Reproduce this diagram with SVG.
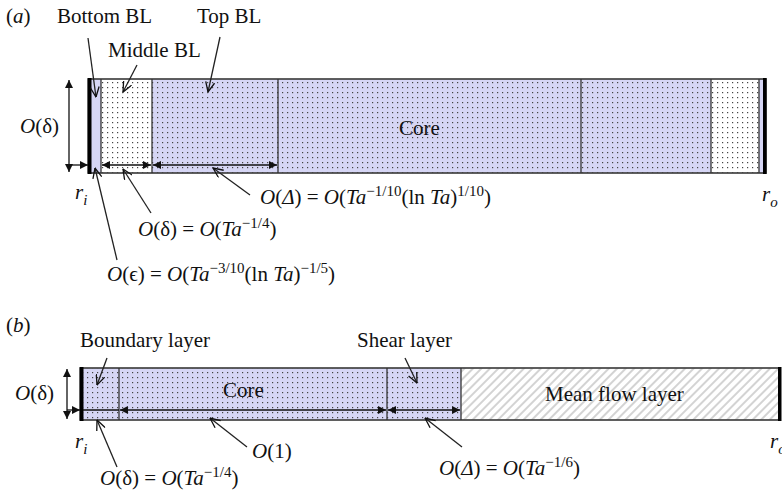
<svg xmlns="http://www.w3.org/2000/svg" width="782" height="500" viewBox="0 0 782 500">
<style>
text{font-family:"Liberation Serif","Times New Roman",serif;font-size:21px;fill:#111}
.i{font-style:italic}
.sup{font-size:15px}
.sub{font-size:15px}
.ln{stroke:#222;stroke-width:1.3;fill:none}
.ar{stroke:#111;stroke-width:1.3;fill:none}
.dv{stroke:#333;stroke-width:1.3}
.bd{fill:none;stroke:#444;stroke-width:1.7}
</style>
<defs>
<pattern id="bdots" width="5" height="5" patternUnits="userSpaceOnUse">
<rect width="5" height="5" fill="#d6d6f5"/>
<rect x="2" y="2" width="1.2" height="1.2" fill="#444"/>
</pattern>
<pattern id="wdots" width="5" height="5" patternUnits="userSpaceOnUse">
<rect width="5" height="5" fill="#fff"/>
<rect x="2" y="2" width="1.2" height="1.2" fill="#444"/>
</pattern>
<pattern id="hatch" width="6" height="6" patternUnits="userSpaceOnUse" patternTransform="rotate(45)">
<rect width="6" height="6" fill="#fff"/>
<line x1="1" y1="0" x2="1" y2="6" stroke="#c8c8c8" stroke-width="1.6"/>
</pattern>
<marker id="tri" viewBox="0 0 10 10" refX="10" refY="5" markerWidth="10" markerHeight="8" markerUnits="userSpaceOnUse" orient="auto-start-reverse">
<path d="M0,0 L10,5 L0,10 Z" fill="#111"/>
</marker>
<marker id="vee" viewBox="0 0 10 10" refX="10" refY="5" markerWidth="11" markerHeight="10" markerUnits="userSpaceOnUse" orient="auto">
<path d="M0,0.5 L10,5 L0,9.5" fill="none" stroke="#111" stroke-width="1.3"/>
</marker>
</defs>

<!-- Panel a -->
<g id="panel-a">
<text x="6" y="23">(<tspan class="i">a</tspan>)</text>
<g id="a-bottomBL-left"><rect x="91" y="79" width="10" height="94" fill="#d6d6f5"/></g>
<g id="a-middleBL-left"><rect x="101" y="79" width="51" height="94" fill="url(#wdots)"/></g>
<g id="a-topBL-left"><rect x="152" y="79" width="126" height="94" fill="url(#bdots)"/></g>
<g id="a-core"><rect x="278" y="79" width="303" height="94" fill="url(#bdots)"/>
<text x="399" y="135">Core</text></g>
<g id="a-topBL-right"><rect x="581" y="79" width="130" height="94" fill="url(#bdots)"/></g>
<g id="a-middleBL-right"><rect x="711" y="79" width="48" height="94" fill="url(#wdots)"/></g>
<g id="a-bottomBL-right"><rect x="759" y="79" width="4" height="94" fill="#d6d6f5"/></g>
<rect class="bd" x="88" y="79" width="678" height="94"/>
<line class="dv" x1="101" y1="79" x2="101" y2="173"/>
<line class="dv" x1="152" y1="79" x2="152" y2="173"/>
<line class="dv" x1="278" y1="79" x2="278" y2="173"/>
<line class="dv" x1="581" y1="79" x2="581" y2="173"/>
<line class="dv" x1="711" y1="79" x2="711" y2="173"/>
<line class="dv" x1="759" y1="79" x2="759" y2="173"/>
<rect x="88" y="78" width="3.5" height="96" fill="#000"/>
<rect x="763" y="78" width="3.5" height="96" fill="#000"/>

<text x="57" y="23">Bottom BL</text>
<text x="197" y="23">Top BL</text>
<text x="108" y="57">Middle BL</text>
<text x="20" y="133"><tspan class="i">O</tspan>(δ)</text>
<text x="75" y="199" class="i">r<tspan class="sub" dy="6">i</tspan></text>
<text x="762" y="201" class="i">r<tspan class="sub" dy="6">o</tspan></text>
<text x="260" y="204"><tspan class="i">O</tspan>(<tspan class="i">Δ</tspan>) = <tspan class="i">O</tspan>(<tspan class="i">Ta</tspan><tspan class="sup" dy="-8">−1/10</tspan><tspan dy="8">(ln </tspan><tspan class="i">Ta</tspan>)<tspan class="sup" dy="-8">1/10</tspan><tspan dy="8">)</tspan></text>
<text x="138" y="236"><tspan class="i">O</tspan>(δ) = <tspan class="i">O</tspan>(<tspan class="i">Ta</tspan><tspan class="sup" dy="-8">−1/4</tspan><tspan dy="8">)</tspan></text>
<text x="107" y="281"><tspan class="i">O</tspan>(ϵ) = <tspan class="i">O</tspan>(<tspan class="i">Ta</tspan><tspan class="sup" dy="-8">−3/10</tspan><tspan dy="8">(ln </tspan><tspan class="i">Ta</tspan>)<tspan class="sup" dy="-8">−1/5</tspan><tspan dy="8">)</tspan></text>
</g>

<!-- Panel b -->
<g id="panel-b">
<text x="6" y="332">(<tspan class="i">b</tspan>)</text>
<g id="b-boundary"><rect x="83" y="368" width="36" height="52" fill="url(#bdots)"/></g>
<g id="b-core"><rect x="119" y="368" width="268" height="52" fill="url(#bdots)"/>
<text x="223" y="397">Core</text></g>
<g id="b-shear"><rect x="387" y="368" width="74" height="52" fill="url(#bdots)"/></g>
<g id="b-meanflow"><rect x="461" y="368" width="317" height="52" fill="url(#hatch)"/>
<text x="545" y="401">Mean flow layer</text></g>
<rect class="bd" x="80" y="368" width="700" height="52"/>
<line class="dv" x1="119" y1="368" x2="119" y2="420"/>
<line class="dv" x1="387" y1="368" x2="387" y2="420"/>
<line class="dv" x1="461" y1="368" x2="461" y2="420"/>
<rect x="80" y="367" width="3.5" height="54" fill="#000"/>
<rect x="778" y="367" width="3.5" height="54" fill="#000"/>

<text x="80" y="347">Boundary layer</text>
<text x="357" y="347">Shear layer</text>
<text x="15" y="400"><tspan class="i">O</tspan>(δ)</text>
<text x="75" y="448" class="i">r<tspan class="sub" dy="6">i</tspan></text>
<text x="770" y="448" class="i">r<tspan class="sub" dy="6">o</tspan></text>
<text x="252" y="458"><tspan class="i">O</tspan>(1)</text>
<text x="100" y="485"><tspan class="i">O</tspan>(δ) = <tspan class="i">O</tspan>(<tspan class="i">Ta</tspan><tspan class="sup" dy="-8">−1/4</tspan><tspan dy="8">)</tspan></text>
<text x="439" y="475"><tspan class="i">O</tspan>(<tspan class="i">Δ</tspan>) = <tspan class="i">O</tspan>(<tspan class="i">Ta</tspan><tspan class="sup" dy="-8">−1/6</tspan><tspan dy="8">)</tspan></text>
</g>

<!-- Connectors -->
<g id="connectors">
<line class="ar" x1="69" y1="80" x2="69" y2="172" marker-start="url(#tri)" marker-end="url(#tri)"/>
<line class="ar" x1="69" y1="165" x2="88" y2="165" marker-end="url(#tri)"/>
<line class="ar" x1="102" y1="165" x2="151" y2="165" marker-start="url(#tri)" marker-end="url(#tri)"/>
<line class="ar" x1="153" y1="165" x2="277" y2="165" marker-start="url(#tri)" marker-end="url(#tri)"/>
<line class="ln" x1="88" y1="38" x2="96" y2="97" marker-end="url(#vee)"/>
<line class="ln" x1="137" y1="65" x2="123" y2="92" marker-end="url(#vee)"/>
<line class="ln" x1="220" y1="37" x2="208" y2="92" marker-end="url(#vee)"/>
<line class="ln" x1="250" y1="195" x2="213" y2="168" marker-end="url(#vee)"/>
<line class="ln" x1="151" y1="213" x2="123" y2="169" marker-end="url(#vee)"/>
<line class="ln" x1="117" y1="260" x2="95" y2="168" marker-end="url(#vee)"/>

<line class="ar" x1="67" y1="369" x2="67" y2="419" marker-start="url(#tri)" marker-end="url(#tri)"/>
<line class="ar" x1="67" y1="410" x2="80" y2="410" marker-end="url(#tri)"/>
<line class="ar" x1="83" y1="410" x2="119" y2="410"/>
<line class="ar" x1="120" y1="410" x2="386" y2="410" marker-start="url(#tri)" marker-end="url(#tri)"/>
<line class="ar" x1="388" y1="410" x2="460" y2="410" marker-start="url(#tri)" marker-end="url(#tri)"/>
<line class="ln" x1="107" y1="358" x2="97" y2="385" marker-end="url(#vee)"/>
<line class="ln" x1="405" y1="358" x2="417" y2="383" marker-end="url(#vee)"/>
<line class="ln" x1="247" y1="447" x2="210" y2="418" marker-end="url(#vee)"/>
<line class="ln" x1="117" y1="467" x2="97" y2="420" marker-end="url(#vee)"/>
<line class="ln" x1="462" y1="447" x2="425" y2="418" marker-end="url(#vee)"/>
</g>
</svg>
